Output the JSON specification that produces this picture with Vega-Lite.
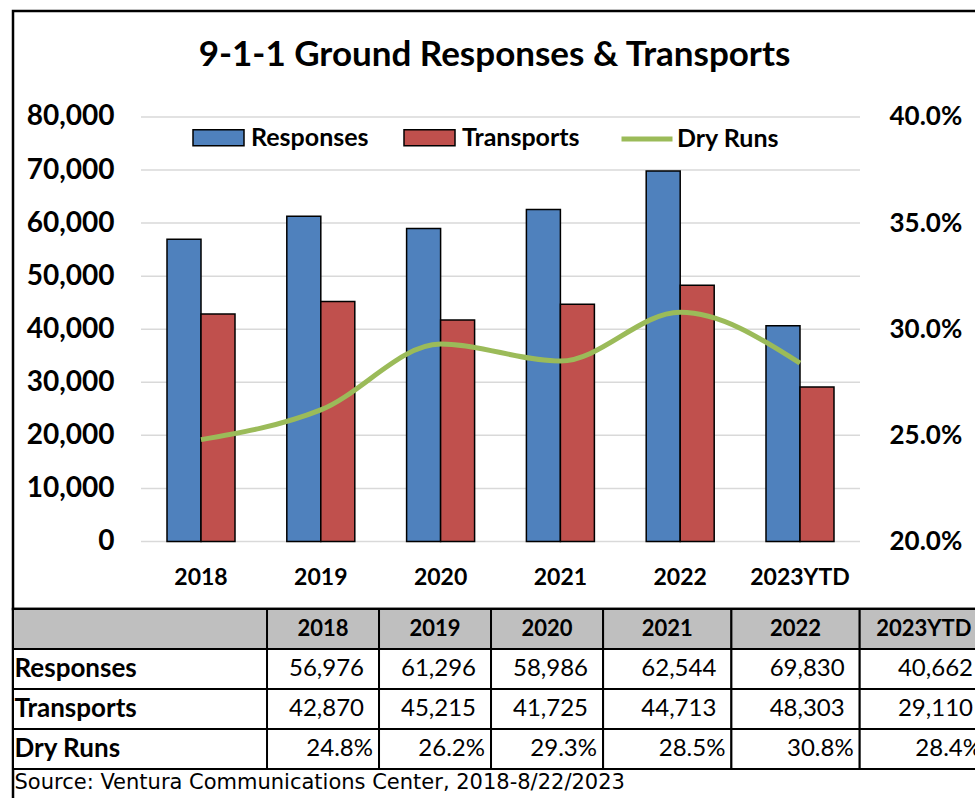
{
  "$schema": "https://vega.github.io/schema/vega-lite/v6.json",
  "padding": {"left": 10, "top": 9, "right": 0, "bottom": 0},
  "background": "white",
  "spacing": 0,
  "bounds": "flush",
  "config": {
    "font": "Lato",
    "concat": {"spacing": 0},
    "axis": {"labelColor": "black", "labelFont": "Lato"},
    "legend": {"labelColor": "black", "labelFont": "Lato"}
  },
  "datasets": {
    "stats": [
      {"year": "2018", "Responses": 56976, "Transports": 42870, "Dry Runs": 0.248},
      {"year": "2019", "Responses": 61296, "Transports": 45215, "Dry Runs": 0.262},
      {"year": "2020", "Responses": 58986, "Transports": 41725, "Dry Runs": 0.293},
      {"year": "2021", "Responses": 62544, "Transports": 44713, "Dry Runs": 0.285},
      {"year": "2022", "Responses": 69830, "Transports": 48303, "Dry Runs": 0.308},
      {"year": "2023YTD", "Responses": 40662, "Transports": 29110, "Dry Runs": 0.284}
    ],
    "grid": [
      {"v": 0}, {"v": 10000}, {"v": 20000}, {"v": 30000}, {"v": 40000},
      {"v": 50000}, {"v": 60000}, {"v": 70000}, {"v": 80000}
    ]
  },
  "vconcat": [
    {
      "width": 975,
      "height": 598,
      "view": {"stroke": "black", "strokeWidth": 2.5},
      "title": {
        "text": "9-1-1 Ground Responses & Transports",
        "font": "Lato",
        "fontSize": 35,
        "fontWeight": "bold",
        "color": "black",
        "anchor": "middle",
        "baseline": "alphabetic",
        "offset": -90,
        "dx": -6
      },
      "layer": [
        {
          "data": {"name": "grid"},
          "mark": {"type": "rect", "fill": "transparent", "stroke": "#D9D9D9", "strokeWidth": 1.5},
          "encoding": {
            "x": {"datum": "g", "type": "nominal", "scale": {"type": "band", "domain": ["g"], "paddingInner": 0, "paddingOuter": 0.178}, "axis": null},
            "y": {"field": "v", "type": "quantitative", "scale": {"domain": [-12721, 99976], "nice": false, "zero": false}, "axis": null},
            "y2": {"field": "v"}
          }
        },
        {
          "data": {"name": "stats"},
          "transform": [{"fold": ["Responses", "Transports"], "as": ["series", "value"]}],
          "mark": {"type": "bar", "stroke": "black", "strokeWidth": 1.5},
          "encoding": {
            "x": {
              "field": "year", "type": "nominal", "sort": null,
              "scale": {"type": "band", "domain": ["L", "2018", "2019", "2020", "2021", "2022", "2023YTD", "R"], "paddingInner": 0.4324, "paddingOuter": 0.2855},
              "axis": {"orient": "bottom", "offset": -67.5, "values": ["2018", "2019", "2020", "2021", "2022", "2023YTD"], "domain": false, "ticks": false, "grid": false, "title": null, "labelAngle": 0, "labelPadding": 25, "labelFontSize": 23, "labelFontWeight": "bold"}
            },
            "xOffset": {"field": "series", "type": "nominal", "sort": ["Responses", "Transports"], "scale": {"paddingInner": 0, "paddingOuter": 0}},
            "y": {
              "field": "value", "type": "quantitative",
              "scale": {"domain": [-12721, 99976], "nice": false, "zero": false},
              "axis": {"orient": "left", "offset": -128, "values": [0, 10000, 20000, 30000, 40000, 50000, 60000, 70000, 80000], "format": ",.0f", "domain": false, "ticks": false, "grid": false, "title": null, "labelPadding": 27, "labelFontSize": 28, "labelFontWeight": "bold"}
            },
            "y2": {"datum": 0},
            "color": {
              "field": "series", "type": "nominal",
              "scale": {"domain": ["Responses", "Transports"], "range": ["#4F81BD", "#C0504D"]},
              "legend": {
                "orient": "none", "legendX": 179, "legendY": 100, "direction": "horizontal", "columns": 2,
                "title": null, "padding": 0, "labelFontSize": 25, "labelFontWeight": "bold", "labelOffset": 6,
                "columnPadding": 32, "symbolSize": 2601,
                "symbolType": "M-1,-0.31H1V0.31H-1Z",
                "symbolStrokeColor": "black", "symbolStrokeWidth": 1.5, "symbolOpacity": 1
              }
            }
          }
        },
        {
          "data": {"name": "stats"},
          "transform": [{"fold": ["Dry Runs"], "as": ["series", "pct"]}],
          "mark": {"type": "line", "interpolate": "monotone", "strokeWidth": 5},
          "encoding": {
            "x": {
              "field": "year", "type": "nominal", "sort": null,
              "scale": {"type": "band", "domain": ["L", "2018", "2019", "2020", "2021", "2022", "2023YTD", "R"], "paddingInner": 0.4324, "paddingOuter": 0.2855},
              "axis": null
            },
            "y": {
              "field": "pct", "type": "quantitative",
              "scale": {"domain": [0.1682, 0.4499], "nice": false, "zero": false},
              "axis": {"orient": "right", "offset": -128, "values": [0.2, 0.25, 0.3, 0.35, 0.4], "format": ".1%", "domain": false, "ticks": false, "grid": false, "title": null, "labelPadding": 29, "labelFontSize": 26, "labelFontWeight": "bold"}
            },
            "stroke": {
              "field": "series", "type": "nominal",
              "scale": {"domain": ["Dry Runs"], "range": ["#9BBB59"]},
              "legend": {
                "orient": "none", "legendX": 606, "legendY": 100, "direction": "horizontal",
                "title": null, "padding": 0, "labelFontSize": 25, "labelFontWeight": "bold", "labelOffset": 2,
                "symbolSize": 2601, "symbolType": "stroke", "symbolStrokeWidth": 5, "symbolOpacity": 1
              }
            }
          }
        }
      ],
      "resolve": {"scale": {"x": "independent", "y": "independent"}}
    },
    {
      "width": 975,
      "height": 200,
      "view": {"stroke": "black", "strokeWidth": 2.5},
      "data": {"name": "stats"},
      "layer": [
        {
          "transform": [
            {"filter": {"field": "year", "equal": "2018"}},
            {"fold": ["Responses", "Transports", "Dry Runs"], "as": ["row", "value"]}
          ],
          "mark": {"type": "rect", "fill": "white", "stroke": "black", "strokeWidth": 2},
          "encoding": {
            "y": {
              "field": "row", "type": "nominal",
              "scale": {"type": "band", "domain": ["hdr", "Responses", "Transports", "Dry Runs", "src"], "paddingInner": 0, "paddingOuter": 0},
              "axis": {
                "orient": "left", "domain": false, "ticks": false, "tickSize": 0, "grid": false, "title": null,
                "labelPadding": -1, "labelAlign": "left", "labelLimit": 0, "zindex": 2,
                "labelExpr": "datum.value === 'hdr' ? '' : datum.value === 'src' ? 'Source: Ventura Communications Center, 2018-8/22/2023' : datum.value",
                "labelFont": {"condition": {"test": "datum.value === 'src'", "value": "DejaVu Sans"}, "value": "Lato"},
                "labelFontSize": {"condition": {"test": "datum.value === 'src'", "value": 21}, "value": 26},
                "labelFontWeight": {"condition": {"test": "datum.value === 'src'", "value": "normal"}, "value": "bold"},
                "labelBaseline": {"condition": {"test": "datum.value === 'src'", "value": "alphabetic"}, "value": "middle"},
                "minExtent": 0, "maxExtent": 0
              }
            }
          }
        },
        {
          "transform": [{"filter": {"field": "year", "equal": "2018"}}],
          "mark": {"type": "rect", "fill": "#BFBFBF", "stroke": "black", "strokeWidth": 2},
          "encoding": {"y": {"datum": "hdr", "type": "nominal"}}
        },
        {
          "transform": [{"filter": {"field": "year", "oneOf": ["2018", "2019", "2020"]}}],
          "encoding": {
            "x": {"field": "year", "type": "nominal", "sort": null, "scale": {"type": "band", "domain": ["a1", "a2", "2018", "2019", "2020", "a3", "a4", "a5"], "paddingInner": 0, "paddingOuter": 0.3527, "align": 0.38}, "axis": null}
          },
          "layer": [
            {"mark": {"type": "rect", "fill": "#BFBFBF", "stroke": "black", "strokeWidth": 2}, "encoding": {"y": {"datum": "hdr", "type": "nominal"}}},
            {"transform": [{"fold": ["Responses", "Transports", "Dry Runs"], "as": ["row", "value"]}], "mark": {"type": "rect", "fill": "white", "stroke": "black", "strokeWidth": 2}, "encoding": {"y": {"field": "row", "type": "nominal"}}},
            {"mark": {"type": "text", "fontSize": 22, "fontWeight": "bold", "color": "black"}, "encoding": {"y": {"datum": "hdr", "type": "nominal"}, "text": {"field": "year"}}},
            {"transform": [{"fold": ["Responses", "Transports"], "as": ["row", "value"]}], "mark": {"type": "text", "align": "right", "dx": -15, "fontSize": 24, "color": "black"}, "encoding": {"x": {"field": "year", "type": "nominal", "sort": null, "bandPosition": 1}, "y": {"field": "row", "type": "nominal"}, "text": {"field": "value", "type": "quantitative", "format": ","}}},
            {"mark": {"type": "text", "align": "right", "dx": -6, "fontSize": 24, "color": "black"}, "encoding": {"x": {"field": "year", "type": "nominal", "sort": null, "bandPosition": 1}, "y": {"datum": "Dry Runs", "type": "nominal"}, "text": {"field": "Dry Runs", "type": "quantitative", "format": ".1%"}}}
          ]
        },
        {
          "transform": [{"filter": {"field": "year", "oneOf": ["2021", "2022", "2023YTD"]}}],
          "encoding": {
            "x": {"field": "year", "type": "nominal", "sort": null, "scale": {"type": "band", "domain": ["b1", "b2", "b3", "b4", "2021", "2022", "2023YTD"], "paddingInner": 0, "paddingOuter": 0.2996, "align": 1}, "axis": null}
          },
          "layer": [
            {"mark": {"type": "rect", "fill": "#BFBFBF", "stroke": "black", "strokeWidth": 2}, "encoding": {"y": {"datum": "hdr", "type": "nominal"}}},
            {"transform": [{"fold": ["Responses", "Transports", "Dry Runs"], "as": ["row", "value"]}], "mark": {"type": "rect", "fill": "white", "stroke": "black", "strokeWidth": 2}, "encoding": {"y": {"field": "row", "type": "nominal"}}},
            {"mark": {"type": "text", "fontSize": 22, "fontWeight": "bold", "color": "black"}, "encoding": {"y": {"datum": "hdr", "type": "nominal"}, "text": {"field": "year"}}},
            {"transform": [{"fold": ["Responses", "Transports"], "as": ["row", "value"]}], "mark": {"type": "text", "align": "right", "dx": -15, "fontSize": 24, "color": "black"}, "encoding": {"x": {"field": "year", "type": "nominal", "sort": null, "bandPosition": 1}, "y": {"field": "row", "type": "nominal"}, "text": {"field": "value", "type": "quantitative", "format": ","}}},
            {"mark": {"type": "text", "align": "right", "dx": -6, "fontSize": 24, "color": "black"}, "encoding": {"x": {"field": "year", "type": "nominal", "sort": null, "bandPosition": 1}, "y": {"datum": "Dry Runs", "type": "nominal"}, "text": {"field": "Dry Runs", "type": "quantitative", "format": ".1%"}}}
          ]
        }
      ],
      "resolve": {"scale": {"x": "independent"}}
    }
  ]
}
